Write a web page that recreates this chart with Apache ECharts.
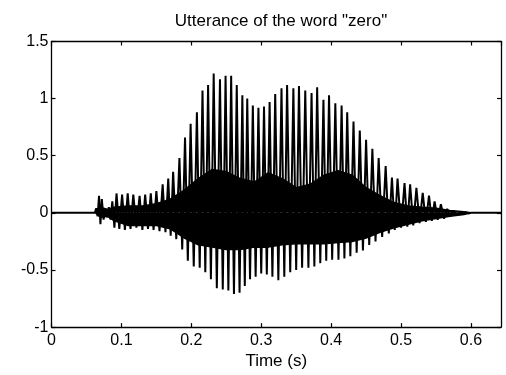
<!DOCTYPE html>
<html>
<head>
<meta charset="utf-8">
<script src="https://cdn.jsdelivr.net/npm/echarts@6/dist/echarts.min.js"></script>
<style>
html,body{margin:0;padding:0;background:#fff;}
#chart{width:506px;height:375px;}
</style>
</head>
<body>
<div id="chart"></div>
<script>
// ---- data ----
const title = 'Utterance of the word "zero"';
const xName = 'Time (s)';
const xMin = 0, xMax = 0.643, xStep = 0.1;
const yMin = -1, yMax = 1.5, yStep = 0.5;
const signalStart = 0.062, signalEnd = 0.600;

// glottal pulses: time (s), positive peak, following negative trough
const pulseT = [0.064,0.068,0.072,0.077,0.082,0.087,
  0.093,0.101,0.109,0.117,0.126,0.134,0.142,0.150,0.159,0.167,
  0.174,0.183,0.191,0.199,0.208,0.216,0.224,0.232,0.241,0.249,
  0.257,0.265,0.273,0.280,0.288,0.296,0.304,0.312,0.320,0.329,
  0.337,0.346,0.354,0.363,0.372,0.380,0.389,0.397,0.406,0.415,
  0.423,0.432,0.441,0.450,0.459,0.468,0.478,0.487,0.495,0.505,
  0.513,0.522,0.531,0.540,0.548,0.557,0.566,0.575,0.585,0.593];
const pulseHi = [0.04,0.15,0.12,0.04,0.05,0.10,
  0.17,0.16,0.17,0.16,0.15,0.16,0.17,0.19,0.25,0.30,
  0.36,0.48,0.66,0.78,0.88,1.07,1.12,1.22,1.17,1.20,
  1.20,1.12,1.03,1.00,0.94,0.92,0.93,0.97,1.04,1.09,
  1.12,1.09,1.11,1.07,1.05,1.10,0.99,1.03,0.96,0.94,
  0.88,0.80,0.72,0.64,0.56,0.48,0.41,0.31,0.30,0.26,
  0.25,0.22,0.175,0.15,0.10,0.075,0.035,0.02,0.01,0.005];
const pulseLo = [-0.03,-0.10,-0.06,-0.04,-0.06,-0.13,
  -0.14,-0.15,-0.14,-0.13,-0.15,-0.14,-0.15,-0.16,-0.17,-0.20,
  -0.23,-0.32,-0.42,-0.47,-0.48,-0.52,-0.58,-0.66,-0.67,-0.68,
  -0.71,-0.70,-0.64,-0.58,-0.56,-0.53,-0.54,-0.56,-0.59,-0.56,
  -0.52,-0.50,-0.48,-0.48,-0.47,-0.44,-0.42,-0.41,-0.41,-0.40,
  -0.38,-0.35,-0.33,-0.28,-0.25,-0.21,-0.18,-0.15,-0.13,-0.12,
  -0.11,-0.09,-0.08,-0.07,-0.06,-0.05,-0.03,-0.02,-0.01,-0.005];

// dense inner band (formant ringing) envelope
const coreT  = [0.063,0.070,0.080,0.090,0.110,0.130,0.150,0.170,0.190,0.210,0.230,0.250,0.270,0.290,0.310,0.330,0.350,0.370,0.390,0.410,0.430,0.450,0.470,0.490,0.510,0.530,0.550,0.570,0.590,0.600];
const coreHi = [0,0.05,0.03,0.05,0.06,0.06,0.08,0.12,0.20,0.30,0.38,0.36,0.30,0.27,0.35,0.30,0.22,0.25,0.33,0.37,0.33,0.22,0.15,0.09,0.06,0.05,0.04,0.02,0.01,0];
const coreLo = [0,-0.04,-0.03,-0.07,-0.11,-0.11,-0.11,-0.14,-0.22,-0.28,-0.30,-0.32,-0.32,-0.30,-0.30,-0.28,-0.27,-0.27,-0.27,-0.26,-0.25,-0.22,-0.17,-0.13,-0.10,-0.07,-0.05,-0.03,-0.015,0];

// ---- build series ----
const wave = [[xMin,0],[signalStart,0]];
for (let i = 0; i < pulseT.length; i++) {
  const nextT = i < pulseT.length - 1 ? pulseT[i+1] : signalEnd;
  wave.push([pulseT[i], pulseHi[i]]);
  wave.push([(pulseT[i] + nextT) / 2, pulseLo[i]]);
}
wave.push([signalEnd,0],[xMax,0]);
const coreUp = coreT.map((t,i)=>[t,coreHi[i]]);
const coreDn = coreT.map((t,i)=>[t,coreLo[i]]);

const FONT = 'Liberation Sans';
const axisLine = {show:true, onZero:false, lineStyle:{color:'#000', width:1.3}};
const tick = {show:true, inside:true, length:4, lineStyle:{color:'#000', width:1.2}};
const lbl = {color:'#000', fontFamily:FONT, fontSize:16};

const chart = echarts.init(document.getElementById('chart'), null, {renderer:'canvas'});
chart.setOption({
  animation:false,
  backgroundColor:'#fff',
  title:{text:title, left:276, textAlign:'center', top:8,
    textStyle:{color:'#000', fontFamily:FONT, fontSize:17, fontWeight:'normal'}},
  grid:{left:51.5, right:5, top:41.5, bottom:45},
  xAxis:[
    {type:'value', min:xMin, max:xMax, interval:xStep, position:'bottom',
     name:xName, nameLocation:'middle', nameGap:22,
     nameTextStyle:{color:'#000', fontFamily:FONT, fontSize:17},
     axisLine:axisLine, axisTick:tick, splitLine:{show:false},
     axisLabel:Object.assign({margin:5, showMaxLabel:false,
       formatter:v=>(Math.abs(v/xStep-Math.round(v/xStep))<1e-6? String(+v.toFixed(1)) : '')}, lbl)},
    {type:'value', min:xMin, max:xMax, interval:xStep, position:'top',
     axisLine:axisLine, axisTick:tick, splitLine:{show:false}, axisLabel:{show:false}}
  ],
  yAxis:[
    {type:'value', min:yMin, max:yMax, interval:yStep, position:'left',
     axisLine:axisLine, axisTick:tick, splitLine:{show:false},
     axisLabel:Object.assign({margin:3}, lbl)},
    {type:'value', min:yMin, max:yMax, interval:yStep, position:'right',
     axisLine:axisLine, axisTick:tick, splitLine:{show:false}, axisLabel:{show:false}}
  ],
  series:[
    {type:'line', data:coreUp, xAxisIndex:0, yAxisIndex:0, symbol:'none',
     lineStyle:{color:'#000', width:1.5}, areaStyle:{color:'#000', opacity:1}},
    {type:'line', data:coreDn, xAxisIndex:0, yAxisIndex:0, symbol:'none',
     lineStyle:{color:'#000', width:1.5}, areaStyle:{color:'#000', opacity:1}},
    {type:'line', data:wave, xAxisIndex:0, yAxisIndex:0, symbol:'none', sampling:null,
     lineStyle:{color:'#000', width:2}}
  ]
});
</script>
</body>
</html>
